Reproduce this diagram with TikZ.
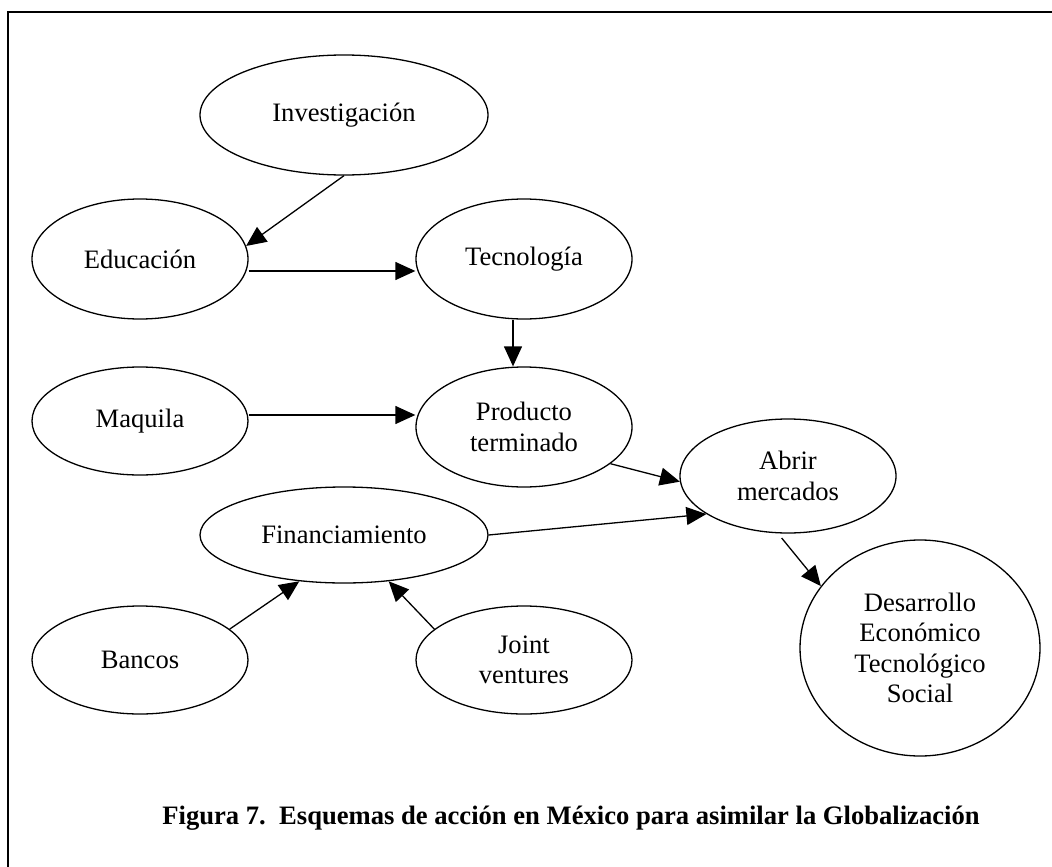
\documentclass[tikz,border=0pt]{standalone}
\usepackage{fontspec}
\setmainfont{Liberation Serif}
\usetikzlibrary{positioning, shapes.geometric, arrows.meta}

\begin{document}
\begin{tikzpicture}[x=1pt, y=-1pt, node distance={384pt}, line width=1.3pt,
        font=\fontsize{26.6}{30.5}\selectfont,
        >={Triangle[length=20pt, width=18pt]},
        main/.style = {draw, ellipse, align=center, inner sep=2pt, minimum width=216pt, minimum height=120pt}]
            \useasboundingbox (0,0) rectangle (1052,867);
            \draw[line width=1.5pt] (8,867) -- (8,12) -- (1052,12);

            \node[main, minimum width=288pt] (1) at (344,115)             {Investigación};
            \node[main] (2) at (140,259)                                  {Educación};
            \node[main] (3) [right of=2]                                  {Tecnología};
            \node[main, minimum height=108pt] (4) at (140,421)            {Maquila};
            \node[main] (5) at (524,427)                                  {Producto\\terminado};
            \node[main, minimum height=114pt] (6) at (788,476)            {Abrir\\mercados};
            \node[main, minimum width=288pt, minimum height=96pt] (7) at (344,535) {Financiamiento};
            \node[main, minimum height=108pt] (8) at (140,660)            {Bancos};
            \node[main, minimum height=108pt] (9) [right of=8]            {Joint\\ventures};
            \node[main, minimum width=240pt, minimum height=216pt] (10) at (920,648) {Desarrollo\\Económico\\Tecnológico\\Social};

            \node (11) at (571,824) [anchor=base] {\bfseries Figura 7.\ \ Esquemas de acción en México para asimilar la Globalización};

            \draw[->] (1.south) to (2.7);
            \draw[->] ([yshift=-12pt]2.east) to ([yshift=-12pt]3.west);
            \draw[->] ([xshift=-11pt]3.south) to ([xshift=-11pt]5.north);
            \draw[->] ([yshift=6pt]4.east) to ([yshift=6pt]4.east -| 5.west);
            \draw[->] (5.-23) to (6.183);
            \draw[->] (7.east) to (6.205);
            \draw[->, shorten <=6pt] (6.-100) to (10.148);

            \draw[->] (8.19) to (7.226);
            \draw[->] (9.161) to (7.-46);
        \end{tikzpicture}
\end{document}
